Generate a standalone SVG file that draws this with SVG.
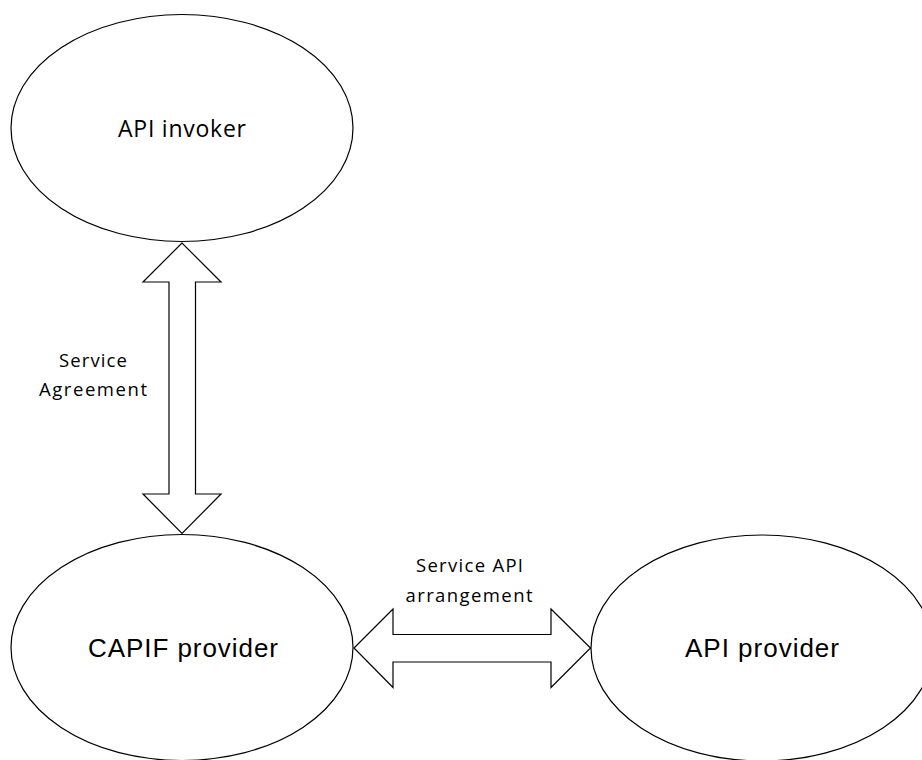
<svg xmlns="http://www.w3.org/2000/svg" width="922" height="760" viewBox="0 0 922 760">
  <style>
    .node { fill: #ffffff; stroke: #000000; stroke-width: 1.2; }
    .conn { fill: #ffffff; stroke: #000000; stroke-width: 1.2; stroke-linejoin: miter; }
    .cal { font-family: "Open Sans", "Noto Sans", sans-serif; fill: #000000; text-anchor: middle; }
    .ari { font-family: "Liberation Sans", Arial, sans-serif; fill: #000000; text-anchor: middle; }
  </style>
  <rect width="922" height="760" fill="#ffffff"/>
  <g id="api-invoker">
    <ellipse class="node" cx="182" cy="128" rx="171" ry="113.5"/>
    <text class="cal" x="182" y="137" font-size="23" textLength="128" lengthAdjust="spacing">API invoker</text>
  </g>
  <g id="capif-provider">
    <ellipse class="node" cx="182" cy="647.5" rx="171" ry="113"/>
    <text class="ari" x="183" y="657" font-size="26" textLength="190" lengthAdjust="spacing">CAPIF provider</text>
  </g>
  <g id="api-provider">
    <ellipse class="node" cx="762" cy="648" rx="171" ry="113"/>
    <text class="ari" x="762" y="657" font-size="26" textLength="154" lengthAdjust="spacing">API provider</text>
  </g>
  <g id="connectors">
    <polygon class="conn" points="182,243 143,282 169,282 169,494 143,494 182,533.5 221,494 195.5,494 195.5,282 221,282"/>
    <polygon class="conn" points="354,648 393,609 393,634.5 551,634.5 551,609 590.5,648 551,687.5 551,662 393,662 393,687.5"/>
  </g>
  <g id="labels">
    <text class="cal" x="93" y="367" font-size="18.5" textLength="68" lengthAdjust="spacing">Service</text>
    <text class="cal" x="93" y="396" font-size="18.5" textLength="108" lengthAdjust="spacing">Agreement</text>
    <text class="cal" x="469.5" y="572" font-size="18.5" textLength="107" lengthAdjust="spacing">Service API</text>
    <text class="cal" x="469" y="601.5" font-size="18.5" textLength="127" lengthAdjust="spacing">arrangement</text>
  </g>
</svg>
